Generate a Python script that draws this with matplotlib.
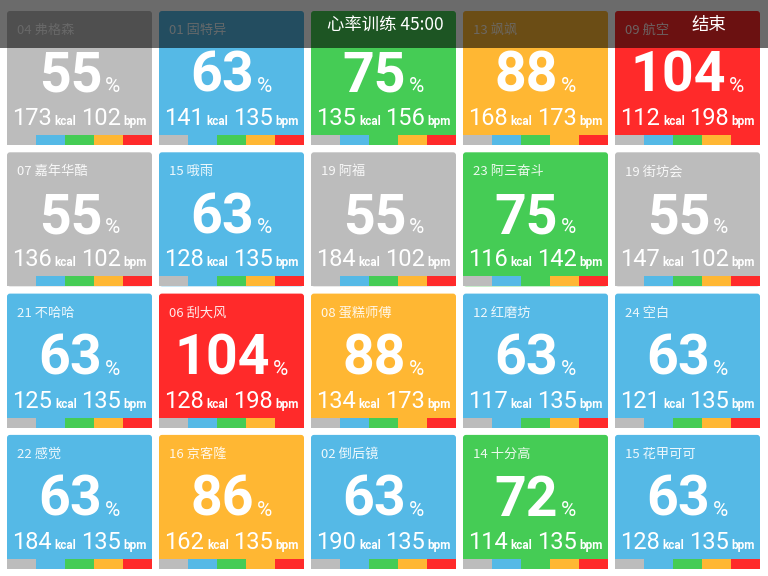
import matplotlib
matplotlib.use("Agg")
import matplotlib.pyplot as plt
from matplotlib.patches import FancyBboxPatch, Rectangle

plt.rcParams['font.family'] = ['Roboto', 'Noto Sans CJK SC', 'DejaVu Sans']

# tile data, row by row
names = ["04 弗格森", "01 固特异", "", "13 飒飒", "09 航空",
         "07 嘉年华酷", "15 哦雨", "19 阿福", "23 阿三奋斗", "19 街坊会",
         "21 不哈哈", "06 刮大风", "08 蛋糕师傅", "12 红磨坊", "24 空白",
         "22 感觉", "16 京客隆", "02 倒后镜", "14 十分高", "15 花甲可可"]
pct = [55, 63, 75, 88, 104,
       55, 63, 55, 75, 55,
       63, 104, 88, 63, 63,
       63, 86, 63, 72, 63]
kcal = [173, 141, 135, 168, 112,
        136, 128, 184, 116, 147,
        125, 128, 134, 117, 121,
        184, 162, 190, 114, 128]
bpm = [102, 135, 156, 173, 198,
       102, 135, 102, 142, 102,
       135, 198, 173, 135, 135,
       135, 135, 135, 135, 135]

title = "心率训练 45:00"
end_label = "结束"

zone_colors = ["#bcbcbc", "#55b9e6", "#45cc55", "#ffb733", "#ff2a2a"]
zone_limits = [60, 70, 80, 90]


def zone_of(p):
    z = 0
    for lim in zone_limits:
        if p >= lim:
            z += 1
    return z


fig = plt.figure(figsize=(7.68, 5.76), dpi=100)
ax = fig.add_axes([0, 0, 1, 1])
ax.set_xlim(0, 768)
ax.set_ylim(576, 0)
ax.axis('off')
renderer = fig.canvas.get_renderer()


def width_of(t):
    bb = t.get_window_extent(renderer)
    return bb.width


narrow = ['Liberation Sans Narrow', 'Roboto']
cjk = ['Noto Sans CJK SC', 'DejaVu Sans']

ncols = 5
tile_w, tile_h = 145, 134
for i, name in enumerate(names):
    r, c = divmod(i, ncols)
    L = 7 + c * 152
    T = 11 + r * 141.3
    z = zone_of(pct[i])
    col = zone_colors[z]
    ax.add_patch(FancyBboxPatch((L, T), tile_w, tile_h,
                                boxstyle="round,pad=0,rounding_size=3",
                                fc=col, ec='none', zorder=1))
    # zone strip along the bottom
    seg = tile_w / 5
    for k, zc in enumerate(zone_colors):
        ax.add_patch(Rectangle((L + k * seg, T + tile_h - 10), seg, 10,
                               fc=zc, ec='none', zorder=2))

    ax.text(L + 10, T + 19.5, name, color='white', alpha=0.9, fontsize=9.5,
            family=cjk, va='center', ha='left', zorder=3)

    # big percentage, centred with its % sign
    big = ax.text(0, T + 81, str(pct[i]), color='white', fontsize=40,
                  fontweight='bold', va='baseline', ha='left', zorder=3)
    ps = ax.text(0, T + 81, "%", color='white', fontsize=15,
                 va='baseline', ha='left', zorder=3)
    wb, wp = width_of(big), width_of(ps)
    x0 = L + tile_w / 2 - (wb + 3 + wp) / 2
    big.set_x(x0)
    ps.set_x(x0 + wb + 3)

    # kcal on the left
    kt = ax.text(L + 5, T + 114, str(kcal[i]), color='white', fontsize=17,
                 family=narrow, va='baseline', ha='left', zorder=3)
    ax.text(L + 5 + width_of(kt) + 3, T + 114, "kcal", color='white', fontsize=8.5,
            fontweight='bold', va='baseline', ha='left', zorder=3)

    # bpm on the right
    bu = ax.text(L + tile_w - 5, T + 114, "bpm", color='white', fontsize=8.5,
                 fontweight='bold', va='baseline', ha='right', zorder=3)
    ax.text(L + tile_w - 5 - width_of(bu) - 3, T + 114, str(bpm[i]), color='white',
            fontsize=17, family=narrow, va='baseline', ha='right', zorder=3)

# dark header overlay
ax.add_patch(Rectangle((0, 0), 768, 48, fc='black', alpha=0.58, ec='none', zorder=5))
ax.text(385, 25, title, color='white', fontsize=12.5,
        family=cjk, ha='center', va='center', zorder=6)
ax.text(709, 25, end_label, color='white', fontsize=12.5,
        family=cjk, ha='center', va='center', zorder=6)

fig.savefig("out.png", dpi=100)
